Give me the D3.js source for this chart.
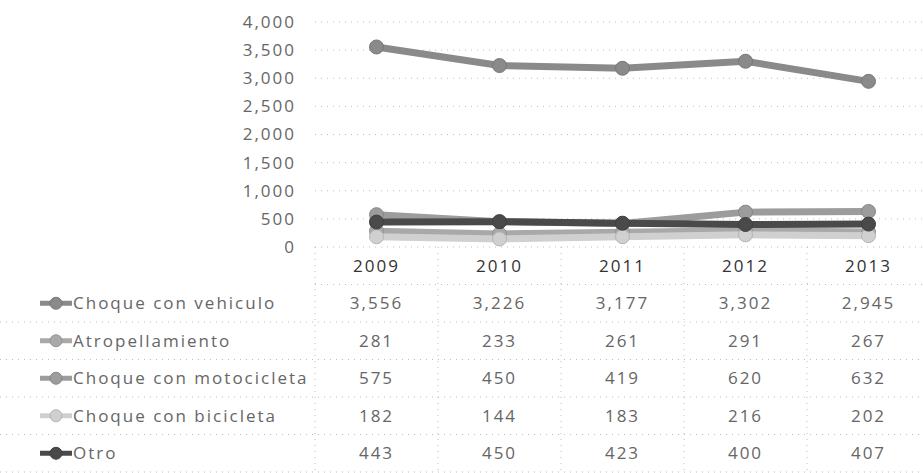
<!DOCTYPE html>
<html>
<head>
<meta charset="utf-8">
<script src="https://cdn.jsdelivr.net/npm/d3@7"></script>
<style>
  body { margin: 0; background: #fff; }
  svg text { font-family: "Open Sans", "Noto Sans", sans-serif; fill: #666; letter-spacing: 2px; }
</style>
</head>
<body>
<svg width="923" height="473"></svg>
<script>
var years = ["2009", "2010", "2011", "2012", "2013"];
var seriesNames = ["Choque con vehiculo", "Atropellamiento", "Choque con motocicleta", "Choque con bicicleta", "Otro"];
var vehiculo = [3556, 3226, 3177, 3302, 2945];
var atropellamiento = [281, 233, 261, 291, 267];
var motocicleta = [575, 450, 419, 620, 632];
var bicicleta = [182, 144, 183, 216, 202];
var otro = [443, 450, 423, 400, 407];
var yTicks = [0, 500, 1000, 1500, 2000, 2500, 3000, 3500, 4000];
var colours = ["#8a8a8a", "#a9a9a9", "#9c9c9c", "#d0d0d0", "#4a4a4a"];

var series = [vehiculo, atropellamiento, motocicleta, bicicleta, otro].map(function(v, i) {
  return { name: seriesNames[i], values: v, colour: colours[i] };
});

var svg = d3.select("svg");

var x = d3.scaleBand().domain(years).range([315, 930]);
var y = d3.scaleLinear().domain([0, 4000]).range([247, 22]);
var rowH = 37.5;
var tableTop = 247;

// gridlines
svg.append("g").selectAll("line")
  .data(yTicks)
  .enter().append("line")
  .attr("x1", 315).attr("x2", 923)
  .attr("y1", function(d) { return y(d); })
  .attr("y2", function(d) { return y(d); })
  .attr("stroke", "#bdbdbd")
  .attr("stroke-width", 1)
  .attr("stroke-dasharray", "1,5");

// y axis labels
var yAxis = d3.axisLeft(y).tickValues(yTicks).tickFormat(d3.format(",")).tickSize(0).tickPadding(0);
var gy = svg.append("g").attr("transform", "translate(296,0)").call(yAxis);
gy.select(".domain").remove();
gy.selectAll("text").style("font-size", "17px").attr("fill", "#666").style("font-family", "'Open Sans', sans-serif");

// lines
var line = d3.line()
  .x(function(d, i) { return x(years[i]) + x.bandwidth() / 2; })
  .y(function(d) { return y(d); });

var g = svg.append("g");
series.forEach(function(s) {
  g.append("path")
    .attr("d", line(s.values))
    .attr("fill", "none")
    .attr("stroke", s.colour)
    .attr("stroke-width", 7);
  g.selectAll(null)
    .data(s.values)
    .enter().append("circle")
    .attr("cx", function(d, i) { return x(years[i]) + x.bandwidth() / 2; })
    .attr("cy", function(d) { return y(d); })
    .attr("r", 7)
    .attr("fill", s.colour)
    .attr("stroke", d3.color(s.colour).darker(0.4))
    .attr("stroke-width", 1);
});

// table grid
var tbl = svg.append("g");
for (var r = 1; r <= 6; r++) {
  tbl.append("line")
    .attr("x1", r === 1 ? 315 : 0).attr("x2", 923)
    .attr("y1", tableTop + r * rowH).attr("y2", tableTop + r * rowH)
    .attr("stroke", "#bdbdbd").attr("stroke-dasharray", "1,5");
}
tbl.selectAll("line.v")
  .data(years)
  .enter().append("line")
  .attr("class", "v")
  .attr("x1", function(d) { return x(d); })
  .attr("x2", function(d) { return x(d); })
  .attr("y1", tableTop).attr("y2", 473)
  .attr("stroke", "#bdbdbd").attr("stroke-dasharray", "1,5");

// header years
tbl.selectAll("text.yr")
  .data(years)
  .enter().append("text")
  .attr("class", "yr")
  .attr("x", function(d) { return x(d) + x.bandwidth() / 2; })
  .attr("y", tableTop + rowH / 2)
  .attr("dy", "0.35em")
  .attr("text-anchor", "middle")
  .style("font-size", "17px")
  .attr("fill", "#333")
  .style("fill", "#333")
  .text(function(d) { return d; });

// rows
var fmt = d3.format(",");
series.forEach(function(s, i) {
  var cy = tableTop + rowH * (i + 1.5);
  var row = tbl.append("g");
  row.selectAll("text")
    .data(s.values)
    .enter().append("text")
    .attr("x", function(d, j) { return x(years[j]) + x.bandwidth() / 2; })
    .attr("y", cy)
    .attr("dy", "0.35em")
    .attr("text-anchor", "middle")
    .style("font-size", "17px")
    .text(function(d) { return fmt(d); });
  // legend key
  row.append("line")
    .attr("x1", 40).attr("x2", 72)
    .attr("y1", cy).attr("y2", cy)
    .attr("stroke", s.colour).attr("stroke-width", 5);
  row.append("circle")
    .attr("cx", 56).attr("cy", cy).attr("r", 6)
    .attr("fill", s.colour)
    .attr("stroke", d3.color(s.colour).darker(0.4));
  row.append("text")
    .attr("x", 73).attr("y", cy)
    .attr("dy", "0.35em")
    .style("font-size", "17px")
    .text(s.name);
});
</script>
</body>
</html>
